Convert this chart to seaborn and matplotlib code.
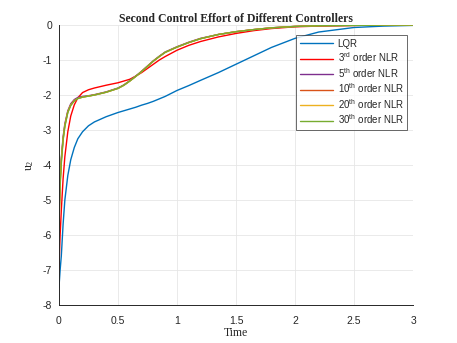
import numpy as np
import pandas as pd
import matplotlib
matplotlib.use('Agg')
import matplotlib.pyplot as plt
import seaborn as sns

# time samples
time = [0, 0.01, 0.02, 0.035, 0.05, 0.075, 0.1, 0.13, 0.16, 0.2, 0.25, 0.3, 0.4, 0.5, 0.55, 0.6, 0.65,
        0.7, 0.75, 0.8, 0.85, 0.9, 1.0, 1.1, 1.2, 1.35, 1.5, 1.65, 1.8, 2.0, 2.2, 2.5, 2.75, 3.0]

u2_lqr = [-7.5, -7.0, -6.6, -5.7, -5.0, -4.3, -3.85, -3.5, -3.25, -3.05, -2.88, -2.77, -2.62, -2.5, -2.45, -2.4, -2.35,
          -2.29, -2.24, -2.18, -2.11, -2.04, -1.87, -1.73, -1.58, -1.36, -1.12, -0.88, -0.64, -0.38, -0.2, -0.07, -0.03, -0.01]
u2_nlr3 = [-7.0, -6.0, -5.3, -4.4, -3.76, -3.05, -2.6, -2.28, -2.08, -1.93, -1.85, -1.8, -1.72, -1.65, -1.6, -1.55, -1.46,
           -1.36, -1.24, -1.12, -1.0, -0.9, -0.72, -0.58, -0.47, -0.34, -0.24, -0.16, -0.1, -0.05, -0.03, -0.01, 0.0, 0.0]
u2_nlr5 = [-5.5, -4.4, -3.8, -3.2, -2.82, -2.45, -2.25, -2.13, -2.07, -2.04, -2.02, -1.99, -1.91, -1.8, -1.71, -1.59, -1.46,
           -1.32, -1.17, -1.02, -0.89, -0.77, -0.62, -0.49, -0.38, -0.27, -0.19, -0.13, -0.08, -0.04, -0.02, -0.01, 0.0, 0.0]
u2_nlr10 = [-5.6, -4.5, -3.85, -3.25, -2.86, -2.48, -2.28, -2.16, -2.1, -2.06, -2.03, -2.0, -1.92, -1.81, -1.72, -1.6, -1.47,
            -1.33, -1.18, -1.03, -0.9, -0.78, -0.63, -0.5, -0.39, -0.27, -0.19, -0.13, -0.08, -0.04, -0.02, -0.01, 0.0, 0.0]
u2_nlr20 = [-5.7, -4.55, -3.9, -3.28, -2.88, -2.49, -2.29, -2.16, -2.1, -2.06, -2.03, -2.0, -1.92, -1.81, -1.72, -1.6, -1.47,
            -1.33, -1.18, -1.03, -0.9, -0.78, -0.63, -0.5, -0.39, -0.27, -0.19, -0.13, -0.08, -0.04, -0.02, -0.01, 0.0, 0.0]
u2_nlr30 = [-5.8, -4.6, -3.95, -3.3, -2.9, -2.5, -2.3, -2.17, -2.1, -2.06, -2.03, -2.0, -1.92, -1.81, -1.72, -1.6, -1.47,
            -1.33, -1.18, -1.03, -0.9, -0.78, -0.63, -0.5, -0.39, -0.27, -0.19, -0.13, -0.08, -0.04, -0.02, -0.01, 0.0, 0.0]

labels = ['LQR',
          '3$^{\\mathregular{rd}}$ order NLR',
          '5$^{\\mathregular{th}}$ order NLR',
          '10$^{\\mathregular{th}}$ order NLR',
          '20$^{\\mathregular{th}}$ order NLR',
          '30$^{\\mathregular{th}}$ order NLR']
series = [u2_lqr, u2_nlr3, u2_nlr5, u2_nlr10, u2_nlr20, u2_nlr30]
colors = ['#0072BD', '#FF0000', '#7E2F8E', '#D95319', '#EDB120', '#77AC30']

df = pd.concat([pd.DataFrame({'Time': time, 'u2': s, 'Controller': lab})
                for s, lab in zip(series, labels)], ignore_index=True)

sns.set_style('white')
plt.rcParams['font.family'] = ['Liberation Sans', 'DejaVu Sans']
plt.rcParams['axes.unicode_minus'] = False
plt.rcParams['xtick.direction'] = 'in'
plt.rcParams['ytick.direction'] = 'in'

fig = plt.figure(figsize=(4.57, 3.43), dpi=100)
ax = fig.add_axes([0.129, 0.111, 0.775, 0.816])

sns.lineplot(data=df, x='Time', y='u2', hue='Controller', palette=colors,
             hue_order=labels, sort=False, linewidth=1.0, ax=ax)

ax.set_xlim(0, 3)
ax.set_ylim(-8, 0)
ax.set_xticks([0, 0.5, 1, 1.5, 2, 2.5, 3])
ax.set_xticklabels(['0', '0.5', '1', '1.5', '2', '2.5', '3'])
ax.set_yticks(range(-8, 1))
ax.tick_params(labelsize=7.5, length=3, width=0.6, color='#262626', labelcolor='#262626')
ax.tick_params(axis='x', pad=8)
ax.tick_params(axis='y', pad=5)
ax.grid(True, color='#e6e6e6', linewidth=0.6)
ax.set_axisbelow(True)
for side in ['top', 'right']:
    ax.spines[side].set_visible(False)
for side in ['left', 'bottom']:
    ax.spines[side].set_color('#262626')
    ax.spines[side].set_linewidth(0.7)

ax.set_title('Second Control Effort of Different Controllers', family='Liberation Serif',
             fontweight='bold', fontsize=8.5, pad=2)
ax.set_xlabel('Time', family='Liberation Serif', fontsize=8.5, labelpad=1)
ax.set_ylabel('$\\mathregular{u_2}$', family='Liberation Serif', fontsize=8.5, labelpad=5)

handles, labs = ax.get_legend_handles_labels()
leg = ax.legend(handles, labs, loc='upper right', bbox_to_anchor=(0.983, 0.964),
                borderaxespad=0, fontsize=7, frameon=True, fancybox=False,
                edgecolor='#262626', handlelength=3.4, handletextpad=0.5,
                labelspacing=0.18, borderpad=0.35)
leg.get_frame().set_linewidth(0.6)

fig.savefig('out.png', dpi=100)
